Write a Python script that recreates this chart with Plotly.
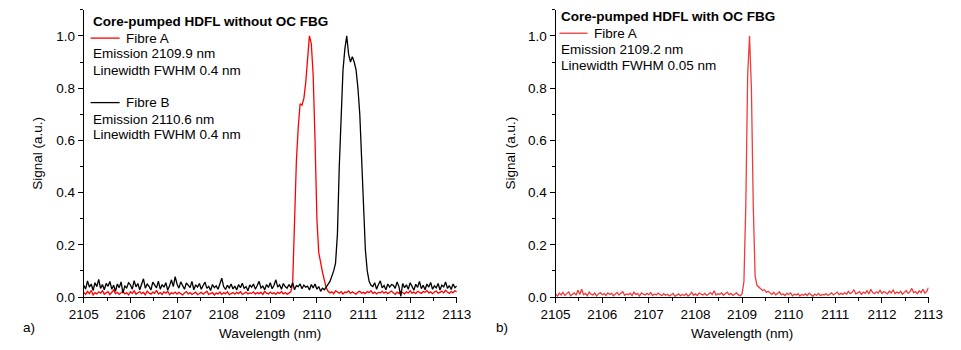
import numpy as np
import plotly.graph_objects as go

# ---------------- data (wavelength grid: 2105 nm + 0.04 nm * index) ----------------
WL_START = 2105.0
WL_STEP = 0.04

# Panel a) Fibre A (red), without OC FBG
fibreA_noFBG = [
    0.018, 0.010, 0.022, 0.013, 0.025, 0.008, 0.017, 0.012, 0.020, 0.015,
    0.024, 0.011, 0.016, 0.021, 0.009, 0.019, 0.027, 0.013, 0.018, 0.010,
    0.015, 0.022, 0.012, 0.017, 0.008, 0.020, 0.014, 0.024, 0.011, 0.016,
    0.021, 0.013, 0.018, 0.009, 0.023, 0.015, 0.011, 0.019, 0.014, 0.026,
    0.012, 0.017, 0.010, 0.020, 0.015, 0.022, 0.009, 0.016, 0.013, 0.019,
    0.011, 0.018, 0.014, 0.008, 0.016, 0.021, 0.012, 0.017, 0.010, 0.015,
    0.019, 0.009, 0.013, 0.018, 0.011, 0.016, 0.022, 0.010, 0.014, 0.017,
    0.008, 0.015, 0.012, 0.019, 0.010, 0.016, 0.013, 0.020, 0.009, 0.014,
    0.017, 0.011, 0.018, 0.013, 0.021, 0.010, 0.015, 0.019, 0.012, 0.016,
    0.014, 0.020, 0.011, 0.017, 0.013, 0.018, 0.010, 0.022, 0.015, 0.012,
    0.019, 0.013, 0.016, 0.010, 0.018, 0.014, 0.021, 0.012, 0.017, 0.011,
    0.015, 0.020,
    0.050, 0.300, 0.520, 0.650, 0.740, 0.735, 0.760, 0.820, 0.920, 1.000,
    0.970, 0.850, 0.600, 0.300, 0.170, 0.125, 0.095, 0.065, 0.035,
    0.022, 0.016, 0.020, 0.013, 0.024, 0.018, 0.015, 0.021, 0.012, 0.019,
    0.017, 0.023, 0.014, 0.020, 0.016, 0.011, 0.019, 0.022, 0.015, 0.018,
    0.013, 0.021, 0.017, 0.024, 0.014, 0.019, 0.012, 0.018, 0.016, 0.022,
    0.015, 0.020, 0.013, 0.017, 0.023, 0.016, 0.010, 0.019, 0.014, 0.021,
    0.018, 0.012, 0.020, 0.016, 0.024, 0.015, 0.019, 0.013, 0.022, 0.017,
    0.014, 0.021, 0.018, 0.025, 0.016, 0.020, 0.013, 0.019, 0.023, 0.015,
    0.018, 0.022, 0.016, 0.026, 0.019, 0.014, 0.021, 0.017, 0.024, 0.020,
]

# Panel a) Fibre B (black), without OC FBG
fibreB_noFBG = [
    0.045, 0.030, 0.062, 0.038, 0.050, 0.025, 0.055, 0.040, 0.068, 0.033,
    0.048, 0.028, 0.052, 0.041, 0.060, 0.030, 0.045, 0.022, 0.050, 0.036,
    0.058, 0.015, 0.042, 0.035, 0.055, 0.047, 0.030, 0.063, 0.039, 0.052,
    0.028, 0.046, 0.070, 0.034, 0.050, 0.041, 0.027, 0.057, 0.044, 0.035,
    0.061, 0.030, 0.048, 0.038, 0.055, 0.026, 0.043, 0.066, 0.040, 0.078,
    0.050, 0.034, 0.058, 0.042, 0.030, 0.054, 0.045, 0.036, 0.060, 0.028,
    0.047, 0.038, 0.052, 0.030, 0.044, 0.057, 0.033, 0.041, 0.025, 0.048,
    0.036, 0.043, 0.030, 0.052, 0.072, 0.040, 0.029, 0.045, 0.035, 0.050,
    0.031, 0.042, 0.027, 0.048, 0.036, 0.053, 0.033, 0.040, 0.024, 0.046,
    0.038, 0.050, 0.030, 0.044, 0.060, 0.035, 0.042, 0.028, 0.048, 0.037,
    0.055, 0.032, 0.045, 0.066, 0.038, 0.047, 0.030, 0.052, 0.040, 0.034,
    0.048, 0.036, 0.055, 0.028, 0.044, 0.040, 0.050, 0.032, 0.046, 0.038,
    0.042, 0.027, 0.048, 0.035, 0.050, 0.030, 0.040, 0.022, 0.034, 0.028,
    0.040, 0.050, 0.060, 0.080, 0.100, 0.130, 0.240, 0.500, 0.730, 0.870,
    0.950, 1.000, 0.930, 0.900, 0.920, 0.900, 0.870, 0.800, 0.700, 0.530,
    0.330, 0.180, 0.100, 0.060, 0.045,
    0.040, 0.055, 0.030, 0.048, 0.062, 0.035, 0.044, 0.028, 0.050, 0.038,
    0.048, 0.045, 0.033, 0.058, 0.040, 0.003, 0.052, 0.036, 0.047, 0.030,
    0.055, 0.041, 0.026, 0.049, 0.037, 0.060, 0.032, 0.045, 0.028, 0.050,
    0.038, 0.056, 0.030, 0.043, 0.035, 0.052, 0.027, 0.046, 0.039, 0.058,
    0.033, 0.044, 0.029, 0.050, 0.036, 0.042,
]

# Panel b) Fibre A (red), with OC FBG
fibreA_FBG = [
    0.012, 0.004, 0.015, 0.008, 0.018, 0.006, 0.013, 0.020, 0.005, 0.011,
    0.016, 0.007, 0.026, 0.010, 0.030, 0.009, 0.014, 0.005, 0.019, 0.011,
    0.008, 0.015, 0.004, 0.012, 0.017, 0.009, 0.013, 0.006, 0.016, 0.010,
    0.014, 0.005, 0.011, 0.018, 0.008, 0.013, 0.021, 0.007, 0.012, 0.009,
    0.015, 0.006, 0.019, 0.010, 0.013, 0.004, 0.016, 0.011, 0.008, 0.014,
    0.009, 0.017, 0.006, 0.012, 0.008, 0.015, 0.010, 0.005, 0.013, 0.007,
    0.011, 0.004, 0.009, 0.014, 0.003, 0.008, 0.012, 0.005, 0.010, 0.006,
    0.013, 0.004, 0.009, 0.018, 0.007, 0.012, 0.006, 0.015, 0.010, 0.008,
    0.014, 0.006, 0.011, 0.017, 0.009, 0.024, 0.008, 0.013, 0.010, 0.016,
    0.007, 0.012, 0.019, 0.009, 0.014, 0.006, 0.011, 0.016, 0.008, 0.005,
    0.012,
    0.060, 0.350, 0.850, 1.000, 0.800, 0.350, 0.080, 0.045, 0.038, 0.030,
    0.025, 0.028, 0.018, 0.022,
    0.015, 0.010, 0.018, 0.008, 0.013, 0.020, 0.009, 0.012, 0.006, 0.014,
    0.010, 0.016, 0.005, 0.011, 0.008, 0.013, 0.004, 0.010, 0.007, 0.012,
    0.006, 0.015, 0.009, 0.003, 0.011, 0.007, 0.014, 0.005, 0.010, 0.008,
    0.013, 0.006, 0.011, 0.016, 0.008, 0.012, 0.019, 0.009, 0.014, 0.010,
    0.017, 0.011, 0.022, 0.013, 0.018, 0.028, 0.012, 0.016, 0.021, 0.010,
    0.019, 0.014, 0.024, 0.012, 0.030, 0.017, 0.013, 0.020, 0.015, 0.026,
    0.014, 0.021, 0.017, 0.012, 0.023, 0.016, 0.027, 0.013, 0.019, 0.015,
    0.022, 0.011, 0.018, 0.025, 0.014, 0.020, 0.033, 0.016, 0.021, 0.013,
    0.024, 0.017, 0.030, 0.015, 0.022, 0.036,
]

x_ticks = [2105, 2106, 2107, 2108, 2109, 2110, 2111, 2112, 2113]
y_ticks = [0.0, 0.2, 0.4, 0.6, 0.8, 1.0]

title_a = "Core-pumped HDFL without OC FBG"
title_b = "Core-pumped HDFL with OC FBG"
legend_a = [("Fibre A", "Emission 2109.9 nm", "Linewidth FWHM 0.4 nm"),
            ("Fibre B", "Emission 2110.6 nm", "Linewidth FWHM 0.4 nm")]
legend_b = [("Fibre A", "Emission 2109.2 nm", "Linewidth FWHM 0.05 nm")]


def wl(values):
    return WL_START + WL_STEP * np.arange(len(values))


# ---------------- figure ----------------
W, H = 961, 350
FONT = "Arial, Liberation Sans, sans-serif"
FS = 13.5
RED = "#ff0000"
RED_B = "#f23a3a"

fig = go.Figure()
fig.add_trace(go.Scatter(x=wl(fibreA_noFBG), y=fibreA_noFBG, mode="lines",
                         line=dict(color=RED, width=1.3), xaxis="x", yaxis="y"))
fig.add_trace(go.Scatter(x=wl(fibreB_noFBG), y=fibreB_noFBG, mode="lines",
                         line=dict(color="black", width=1.3), xaxis="x", yaxis="y"))
fig.add_trace(go.Scatter(x=wl(fibreA_FBG), y=fibreA_FBG, mode="lines",
                         line=dict(color=RED_B, width=1.3), xaxis="x2", yaxis="y2"))

def px(x):
    return x / W

def py(y):
    return 1 - y / H

axis_common = dict(showline=True, linecolor="black", linewidth=1, ticks="outside",
                   ticklen=5, tickwidth=1, tickcolor="black", showgrid=False,
                   zeroline=False, tickfont=dict(family=FONT, size=FS, color="black"))

xa = dict(axis_common, range=[2105, 2113], tickvals=x_ticks,
          minor=dict(ticks="outside", ticklen=3, dtick=0.5, tickcolor="black", showgrid=False))
ya = dict(axis_common, range=[0, 1.1], tickvals=y_ticks, tickformat=".1f",
          minor=dict(ticks="outside", ticklen=3, dtick=0.1, tickcolor="black", showgrid=False))

fig.update_layout(
    width=W, height=H, margin=dict(l=0, r=0, t=0, b=0),
    paper_bgcolor="white", plot_bgcolor="white", showlegend=False,
    xaxis=dict(xa, domain=[px(71), px(456)], anchor="y"),
    yaxis=dict(ya, domain=[1 - 304 / H, 1 - 10 / H], anchor="x"),
    xaxis2=dict(xa, domain=[px(558), px(943)], anchor="y2"),
    yaxis2=dict(ya, domain=[1 - 304 / H, 1 - 10 / H], anchor="x2"),
    font=dict(family=FONT, size=FS, color="black"),
)

ann = []
shapes = []

def text(x, y, s, **kw):
    d = dict(x=px(x), y=py(y), xref="paper", yref="paper", text=s, showarrow=False,
             xanchor="left", yanchor="middle", font=dict(family=FONT, size=FS, color="black"))
    d.update(kw)
    ann.append(d)

def legline(x0, x1, y, color):
    shapes.append(dict(type="line", xref="paper", yref="paper", x0=px(x0), x1=px(x1),
                       y0=py(y), y1=py(y), line=dict(color=color, width=1.3)))

# panel a
text(78, 22, "<b>" + title_a + "</b>")
rows_a = [(39, 55, 72, RED), (105, 122, 138, "black")]
for (name, em, lw), (y0, y1, y2, col) in zip(legend_a, rows_a):
    legline(78, 108, y0, col)
    text(112, y0, name)
    text(78, y1, em)
    text(78, y2, lw)

# panel b
text(562, 17, "<b>" + title_b + "</b>")
for (name, em, lw) in legend_b:
    legline(562, 591, 34, RED_B)
    text(596, 34, name)
    text(562, 51, em)
    text(562, 67, lw)

# axis titles and panel labels
text(263.5, 341.5, "Wavelength (nm)", xanchor="center")
text(750.5, 341.5, "Wavelength (nm)", xanchor="center")
text(23, 157, "Signal (a.u.)", xanchor="center", textangle=-90)
text(511, 157, "Signal (a.u.)", xanchor="center", textangle=-90)
text(6, 335, "a)")
text(494, 335, "b)")

fig.update_layout(annotations=ann, shapes=shapes)
fig.write_html("out.html")
